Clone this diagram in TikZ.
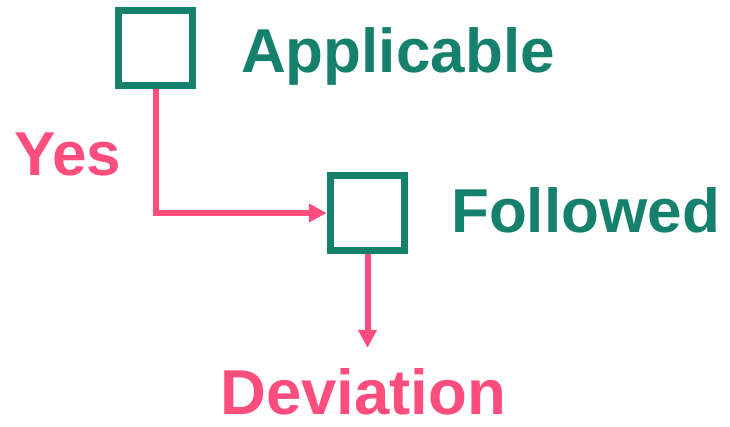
\documentclass[tikz,border=0pt]{standalone}
\usepackage{fontspec}
\setmainfont{Liberation Sans}
\usetikzlibrary{arrows.meta}
\definecolor{boxgreen}{RGB}{21,128,108}
\definecolor{flowpink}{RGB}{255,77,126}

\begin{document}
\begin{tikzpicture}[x=1pt, y=-1pt, main box/.style={draw=boxgreen, line width=7pt, minimum size=74.5pt, inner sep=0pt}, green text/.style={text=boxgreen, font=\fontsize{62}{70}\selectfont\bfseries, inner sep=0pt, anchor=base west}, pink text/.style={text=flowpink, font=\fontsize{62}{70}\selectfont\bfseries, inner sep=0pt, anchor=base west}, flow/.style={draw=flowpink, line width=6pt, -{Triangle[width=18pt, length=18pt]}}]

			\useasboundingbox (0,0) rectangle (730,426);

			\node[main box] (1) at (155.5,48) {};
			\node[main box] (2) at (367.5,213) {};

			\node[green text] (applicable) at (241,72) {Applicable};
			\node[green text] (followed) at (451,232) {Followed};
			\node[pink text] (yes) at (14,175) {Yes};
			\node[pink text, font=\fontsize{63.5}{70}\selectfont\bfseries] (deviation) at (220,414) {Deviation};

			% draw yes branch into second box
			\draw[flow] (1.south) |- (2.west);

			% draw deviation branch
			\draw[flow, shorten >=20pt] (2.south) -- (2.south |- deviation.north);

		\end{tikzpicture}
\end{document}
